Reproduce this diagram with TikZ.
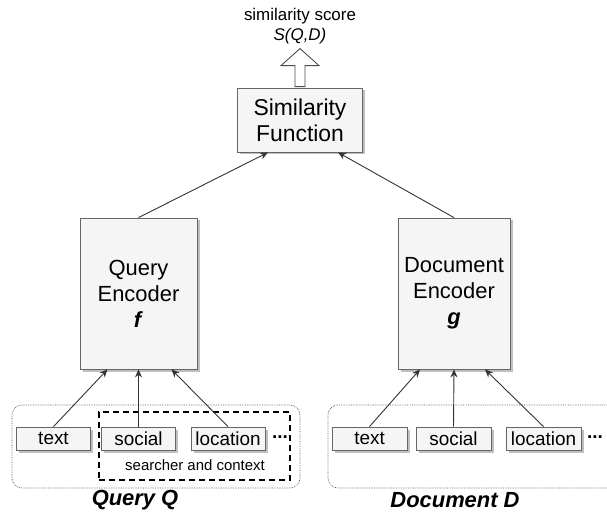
\documentclass[tikz,border=0pt]{standalone}
\usepackage{fontspec}
\setmainfont{Liberation Sans}
\usetikzlibrary{arrows.meta,shadows,calc}

\begin{document}
\begin{tikzpicture}[
      x = 1bp, y = -1bp, thick,
      Line/.style = {draw, -{Stealth[length = 8bp, width = 7bp]}, color = black!80, line width = 0.9bp},
      Block/.style = {draw = black!60, line width = 0.8bp, fill = black!4, inner sep = 0pt, align = center,
        drop shadow = {shadow xshift = 2.5bp, shadow yshift = -2.5bp, fill = black!25, opacity = 1}},
      Encoder/.style = {Block, minimum height = 151bp, font = \fontsize{22}{26}\selectfont},
      Feature/.style = {Block, minimum width = 74bp, minimum height = 23bp, font = \fontsize{19}{22}\selectfont},
      Group/.style = {draw = black!65, densely dotted, line width = 0.7bp, rounded corners = 10bp, inner sep = 0pt, minimum height = 83bp},
      Caption/.style = {font = \fontsize{22}{26}\selectfont\bfseries\itshape}
    ]
    \useasboundingbox (0,0) rectangle (607,512);

    \node at (300,16) [font = \fontsize{17}{20}\selectfont](Score){similarity score};
    \node at (300,36) [font = \fontsize{17}{20}\selectfont\itshape](SQD){S(Q,D)};
    \node at (300,120) [Block, minimum width = 125bp, minimum height = 64bp, font = \fontsize{23}{26}\selectfont](Sim){Similarity\\Function};

    \node at (138.5,293.5) [Encoder, minimum width = 117bp](QEnc){Query\\Encoder\\\textbf{\textit{f}}};
    \node at (454,293.5) [Encoder, minimum width = 112bp](DEnc){Document\\Encoder\\\textbf{\textit{g}}};

    % query side
    \node at (156,446.5) [Group, minimum width = 288bp](QGroup){};
    \node at (194.5,446) [draw, dash pattern = on 6bp off 4bp, line width = 1.4bp, inner sep = 0pt, minimum width = 191bp, minimum height = 68bp](Context){};
    \node at (53.5,438.5) [Feature](QText){text};
    \node at (138.5,438.5) [Feature](QSocial){social};
    \node at (228,438.5) [Feature](QLoc){location};
    \node at (280,437) [font = \fontsize{19}{22}\selectfont\bfseries](QDots){...};
    \node at (195,465) [font = \fontsize{15}{18}\selectfont](ContextLabel){searcher and context};
    \node at (135,500) [Caption](QLabel){Query Q};

    % document side
    \node at (484,446.5) [Group, minimum width = 312bp](DGroup){};
    \node at (369.5,438.5) [Feature, minimum width = 75bp](DText){text};
    \node at (453.5,438.5) [Feature, minimum width = 75bp](DSocial){social};
    \node at (543.5,438.5) [Feature, minimum width = 75bp](DLoc){location};
    \node at (595,437) [font = \fontsize{19}{22}\selectfont\bfseries](DDots){...};
    \node at (455,500) [Caption](DLabel){Document D};

    \path [Line] (QText.north) -- ($(QEnc.south)+(-31,0)$);
    \path [Line] (QSocial.north) -- (QEnc.south);
    \path [Line] (QLoc.north) -- ($(QEnc.south)+(33,0)$);
    \path [Line] (DText.north) -- ($(DEnc.south)+(-34,0)$);
    \path [Line] (DSocial.north) -- (DEnc.south);
    \path [Line] (DLoc.north) -- ($(DEnc.south)+(31,0)$);
    \path [Line] (QEnc.north) -- ($(Sim.south)+(-32,0)$);
    \path [Line] (DEnc.north) -- ($(Sim.south)+(38,0)$);

    \draw [draw = black!70, fill = white, line width = 0.9bp, shift = {(Sim.north)}]
      (-5,-1) -- (-5,-22) -- (-19,-22) -- (0,-39) -- (19,-22) -- (5,-22) -- (5,-1) -- cycle;
  \end{tikzpicture}
\end{document}
